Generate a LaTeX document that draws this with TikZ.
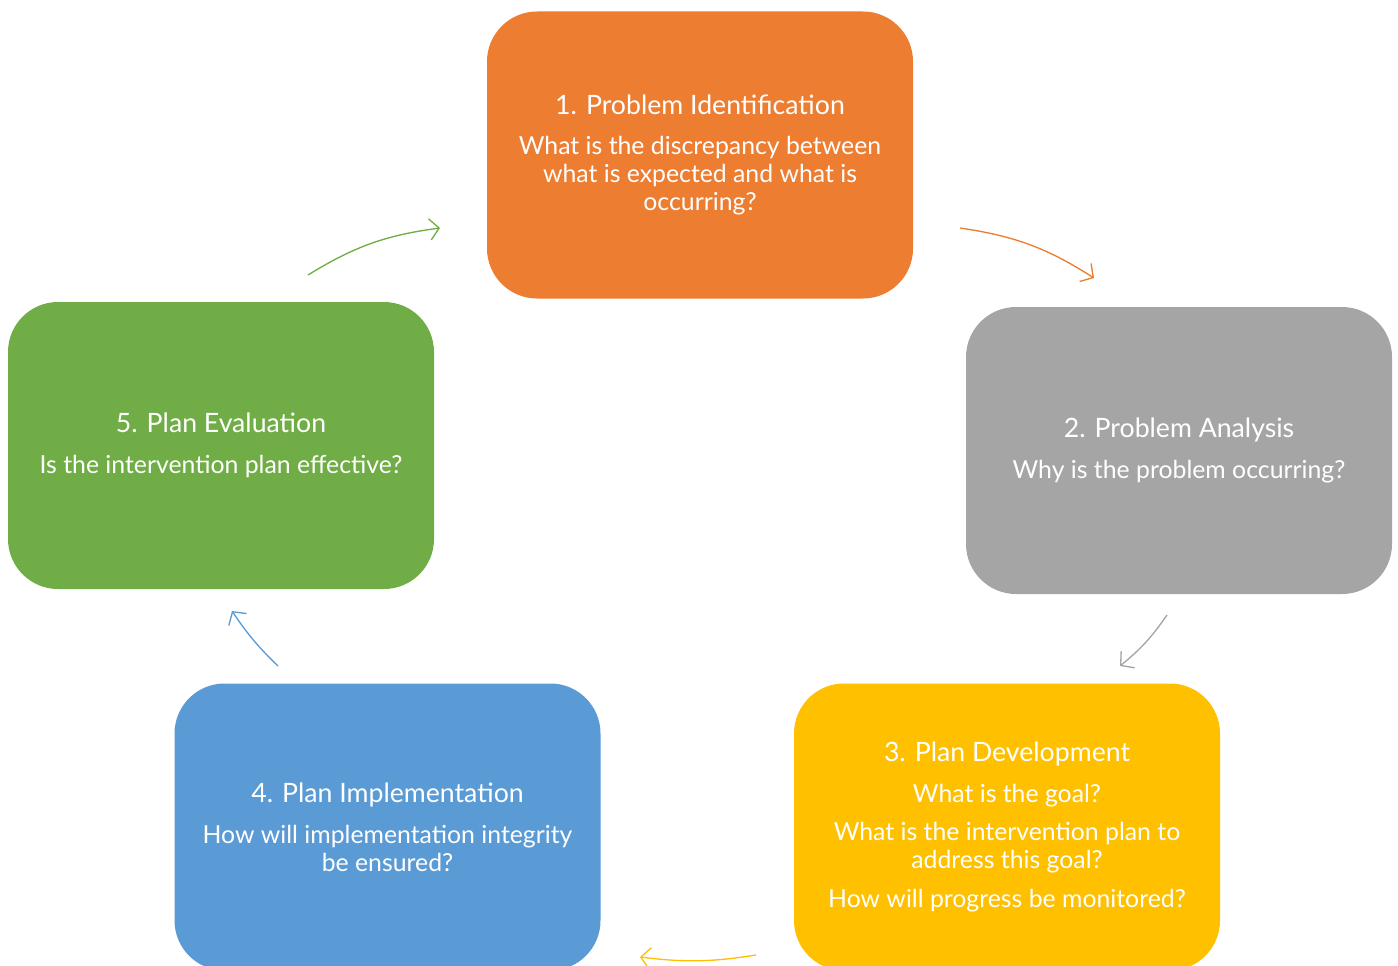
\documentclass[tikz,border=0pt]{standalone}
\usepackage{fontspec}
\setmainfont{Lato}
\usetikzlibrary{arrows.meta}
\usetikzlibrary{calc}

\definecolor{steporange}{HTML}{ED7D31}
\definecolor{stepgray}{HTML}{A5A5A5}
\definecolor{stepyellow}{HTML}{FFC000}
\definecolor{stepblue}{HTML}{5B9BD5}
\definecolor{stepgreen}{HTML}{70AD47}

\begin{document}
\begin{tikzpicture}[x=0.75pt,y=0.75pt,
    cyclebox/.style={rectangle,rounded corners=37.5pt,minimum width=319.5pt,
        minimum height=215.25pt,inner sep=0pt,text=white,align=center,
        font=\fontsize{18.6}{21}\selectfont},
    cyclearrow/.style={line width=1pt,-{Straight Barb[length=7pt,width=16pt]}}]
        \newcommand{\figcycletitle}[1]{{\fontsize{20}{25}\selectfont #1}\\[9.5pt]}
        \newcommand{\figcyclegap}{\\[8pt]}
        \useasboundingbox (0,0) rectangle (1398,-966);
        % the five steps
        \node[cyclebox,fill=steporange] (ident) at (700,-155)
            {\figcycletitle{1. Problem Identification}What is the discrepancy between\\what is expected and what is\\occurring?};
        \node[cyclebox,fill=stepgray] (analysis) at (1179,-450.5)
            {\figcycletitle{2. Problem Analysis}Why is the problem occurring?};
        \node[cyclebox,fill=stepyellow] (develop) at (1007,-827)
            {\figcycletitle{3. Plan Development}What is the goal?\figcyclegap What is the intervention plan to\\address this goal?\figcyclegap How will progress be monitored?};
        \node[cyclebox,fill=stepblue] (implement) at (387.5,-827)
            {\figcycletitle{4. Plan Implementation}How will implementation integrity\\be ensured?};
        \node[cyclebox,fill=stepgreen] (evaluate) at (221,-445.5)
            {\figcycletitle{5. Plan Evaluation}Is the intervention plan effective?};
        % arrow ends
        \coordinate (evaluateout) at (308,-275);
        \coordinate (identin) at (440,-228);
        \coordinate (identout) at (960,-228);
        \coordinate (analysisin) at (1094,-278);
        \coordinate (analysisout) at (1167,-615);
        \coordinate (developin) at (1120,-666);
        \coordinate (developout) at (756,-955);
        \coordinate (implementin) at (640,-957);
        \coordinate (implementout) at (278,-666);
        \coordinate (evaluatein) at (232,-611);
        \draw[cyclearrow,stepgreen] (evaluateout) to[bend left=12] (identin);
        \draw[cyclearrow,steporange] (identout) to[bend left=12] (analysisin);
        \draw[cyclearrow,stepgray] (analysisout) to[bend left=8] (developin);
        \draw[cyclearrow,stepyellow] (developout) to[bend left=8] (implementin);
        \draw[cyclearrow,stepblue] (implementout) to[bend left=6] (evaluatein);
\end{tikzpicture}
\end{document}
